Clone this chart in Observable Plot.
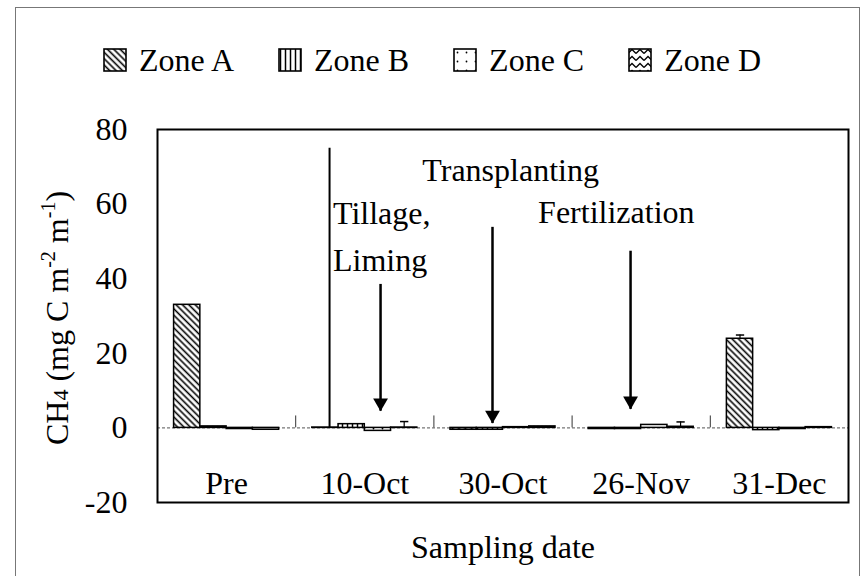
<!DOCTYPE html>
<html>
<head>
<meta charset="utf-8">
<script src="https://cdn.jsdelivr.net/npm/d3@7"></script>
<script src="https://cdn.jsdelivr.net/npm/@observablehq/plot@0.6"></script>
<style>
  html, body { margin: 0; padding: 0; background: white; }
  body { width: 864px; height: 576px; position: relative; overflow: hidden; font-family: 'Liberation Serif', 'Times New Roman', serif; }
  #legend { height: 100px; box-sizing: border-box; padding-top: 20px; display: flex; justify-content: center; align-items: center; gap: 44px; font-size: 32px; color: black; }
  .item { display: flex; align-items: center; }
  .item svg { margin-right: 12px; }
  #border { position: absolute; left: 15px; top: 7px; width: 843px; height: 620px; border: 1.5px solid #777; pointer-events: none; }
</style>
</head>
<body>
<svg width="0" height="0" style="position:absolute">
  <defs>
    <pattern id="pata" width="4.5" height="4.5" patternUnits="userSpaceOnUse" patternTransform="rotate(-45)">
      <rect width="4.5" height="4.5" fill="white"/>
      <line x1="2.25" y1="0" x2="2.25" y2="4.5" stroke="black" stroke-width="1.6"/>
    </pattern>
    <pattern id="patb" width="5" height="5" patternUnits="userSpaceOnUse">
      <rect width="5" height="5" fill="white"/>
      <line x1="2.5" y1="0" x2="2.5" y2="5" stroke="black" stroke-width="1.5"/>
    </pattern>
    <pattern id="patc" width="9" height="9" patternUnits="userSpaceOnUse">
      <rect width="9" height="9" fill="white"/>
      <circle cx="4.5" cy="4.5" r="0.9" fill="black"/>
    </pattern>
    <pattern id="patd" width="8" height="7" patternUnits="userSpaceOnUse">
      <rect width="8" height="7" fill="white"/>
      <path d="M0,5.5 L4,1.5 L8,5.5" fill="none" stroke="black" stroke-width="1.3"/>
    </pattern>
  </defs>
</svg>
<div id="border"></div>
<div id="legend"></div>
<div id="chart"></div>
<script>
// ---- data ----
const dates = ["Pre", "10-Oct", "30-Oct", "26-Nov", "31-Dec"];
const zones = ["Zone A", "Zone B", "Zone C", "Zone D"];
const zoneA = [33.0, 0.1, -0.5, -0.3, 23.9];
const zoneB = [0.4, 1.0, -0.5, -0.3, -0.6];
const zoneC = [-0.3, -0.8, 0.2, 0.8, -0.3];
const zoneD = [-0.5, 0.1, 0.4, 0.3, 0.2];
const yTicks = [-20, 0, 20, 40, 60, 80];

// error bars (date, zone, size)
const errDates = ["10-Oct", "26-Nov", "31-Dec"];
const errZones = ["Zone D", "Zone D", "Zone A"];
const errSizes = [1.6, 1.3, 1.0];

// annotations (data units)
const noteText = ["Tillage,", "Liming", "Transplanting", "Fertilization"];
const noteX = [1.27, 1.27, 2.555, 3.32];
const noteY = [54.7, 42.1, 66.2, 55.0];
const noteAnchor = ["start", "start", "middle", "middle"];

const arrowX = [1.614, 2.424, 3.423];
const arrowTop = [38.6, 53.9, 47.5];
const arrowTip = [4.6, 1.3, 5.1];

const sepX = [1.245];
const sepTop = [75];

// ---- derived ----
const series = [zoneA, zoneB, zoneC, zoneD];
const patterns = ["url(#pata)", "url(#patb)", "url(#patc)", "url(#patd)"];
const off = 0.12, bw = 0.19;
const rows = dates.flatMap((d, i) => zones.map((z, j) => ({date: d, zone: z, i, j, value: series[j][i]})));
const errs = errDates.map((d, k) => {
  const i = dates.indexOf(d), j = zones.indexOf(errZones[k]);
  const v = series[j][i];
  return {xc: i + off + (j + 0.5) * bw, v, top: v + errSizes[k]};
});
const notes = noteText.map((t, k) => ({t, x: noteX[k], y: noteY[k], a: noteAnchor[k]}));
const arrows = arrowX.map((x, k) => ({x, top: arrowTop[k], tip: arrowTip[k]}));

// legend
const legend = d3.select("#legend");
zones.forEach((z, j) => {
  const it = legend.append("div").attr("class", "item");
  const s = it.append("svg").attr("width", 24).attr("height", 24);
  s.append("rect").attr("x", 1).attr("y", 1).attr("width", 22).attr("height", 22)
    .attr("fill", patterns[j]).attr("stroke", "black").attr("stroke-width", 1.6);
  it.append("span").text(z);
});

const barMarks = zones.map((z, j) => Plot.rectY(rows.filter(r => r.j === j), {
  x1: r => r.i + off + r.j * bw,
  x2: r => r.i + off + (r.j + 1) * bw,
  y1: 0, y2: "value",
  fill: patterns[j], stroke: "black", strokeWidth: 1.5
}));

const plot = Plot.plot({
  width: 864, height: 476,
  marginLeft: 157, marginRight: 16, marginTop: 29, marginBottom: 74,
  x: {domain: [0, 5]},
  y: {domain: [-20, 80]},
  style: {fontFamily: "'Liberation Serif', 'Times New Roman', serif", fontSize: "32px", color: "black", background: "white", overflow: "visible"},
  marks: [
    Plot.ruleY([0], {stroke: "#777", strokeWidth: 1.2, strokeDasharray: "3,2"}),
    Plot.ruleX([1, 2, 3, 4], {y1: 0, y2: 3.2, stroke: "#333", strokeWidth: 1}),
    ...barMarks,
    Plot.ruleX(errs, {x: "xc", y1: "v", y2: "top", stroke: "black", strokeWidth: 1.2}),
    Plot.link(errs, {x1: d => d.xc - 0.03, x2: d => d.xc + 0.03, y1: "top", y2: "top", stroke: "black", strokeWidth: 1.5}),
    Plot.ruleX(sepX, {y1: 0, y2: sepTop, stroke: "black", strokeWidth: 2}),
    Plot.link(arrows, {x1: "x", x2: "x", y1: "top", y2: "tip", stroke: "black", strokeWidth: 2.5}),
    Plot.dot(arrows, {x: "x", y: "tip", symbol: "triangle", rotate: 180, r: 5.5, fill: "black", stroke: "none", dy: -8}),
    Plot.text(notes, {x: "x", y: "y", text: "t", textAnchor: "start", filter: d => d.a === "start", lineAnchor: "bottom", fontSize: 32}),
    Plot.text(notes, {x: "x", y: "y", text: "t", textAnchor: "middle", filter: d => d.a === "middle", lineAnchor: "bottom", fontSize: 32}),
    Plot.axisY({ticks: yTicks, tickFormat: d => String(d), tickSize: 0, tickPadding: 30, label: null, fontSize: 32}),
    Plot.axisX({ticks: dates.map((d, i) => i + 0.5), tickFormat: v => dates[Math.round(v - 0.5)], tickSize: 0, tickPadding: 0, label: null, dy: -31, fontSize: 32}),
    Plot.text(["Sampling date"], {frameAnchor: "bottom", lineAnchor: "bottom", dy: 55, fontSize: 32}),
    Plot.frame({stroke: "black", strokeWidth: 2})
  ]
});

// y-axis label with sub/superscripts
const lbl = d3.select(plot).append("text")
  .attr("transform", "translate(68,218) rotate(-90)")
  .attr("text-anchor", "middle")
  .attr("font-size", 32)
  .attr("fill", "black");
lbl.append("tspan").text("CH");
lbl.append("tspan").attr("font-size", 22).text("4");
lbl.append("tspan").text(" (mg C m");
lbl.append("tspan").attr("font-size", 20).attr("dy", -13).text("-2");
lbl.append("tspan").attr("dy", 13).text(" m");
lbl.append("tspan").attr("font-size", 20).attr("dy", -13).text("-1");
lbl.append("tspan").attr("dy", 13).text(")");

document.getElementById("chart").appendChild(plot);
</script>
</body>
</html>
